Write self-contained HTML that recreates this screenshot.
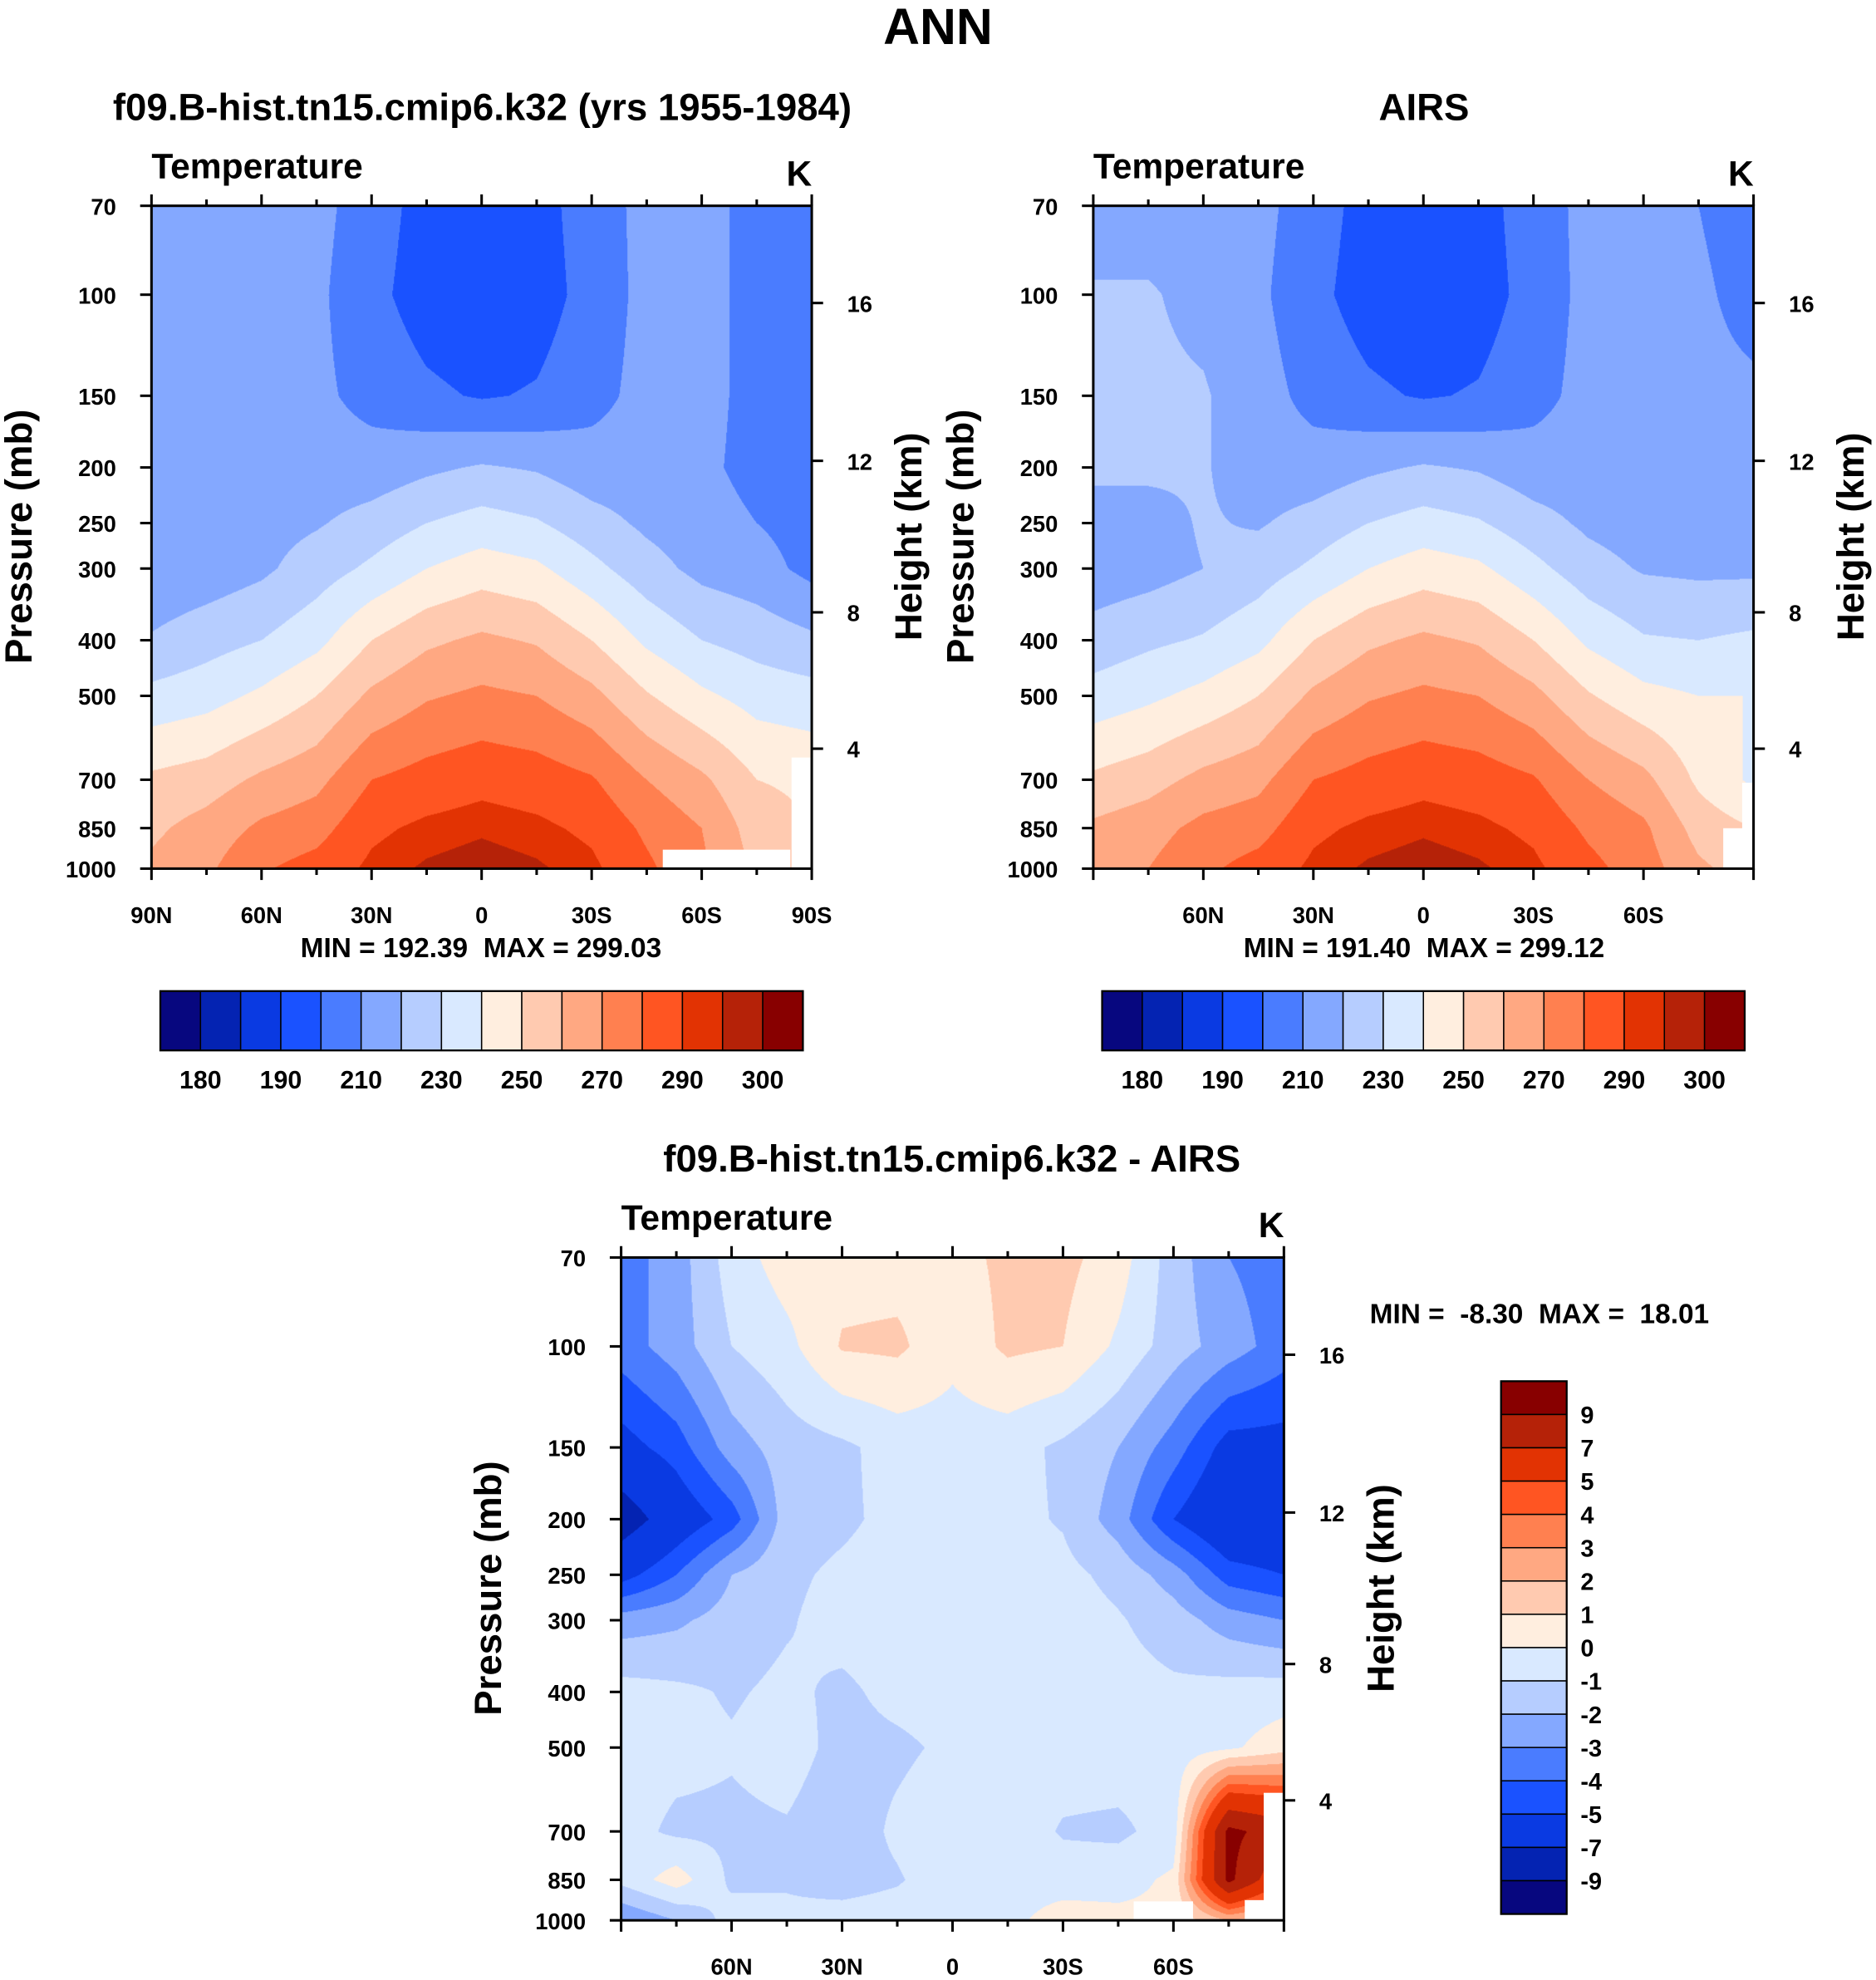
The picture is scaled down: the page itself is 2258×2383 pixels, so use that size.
<!DOCTYPE html>
<html><head><meta charset="utf-8"><style>
html,body{margin:0;padding:0;background:#fff;}
#outer{position:relative;width:2258px;height:2383px;overflow:hidden;}
#inner{position:absolute;left:0;top:0;width:1486px;height:1568px;transform:scale(1.51951);transform-origin:0 0;}
canvas{position:absolute;}
svg{position:absolute;left:0;top:0;}
text{font-family:"Liberation Sans",Arial,sans-serif;font-weight:bold;fill:#000;white-space:pre;}
</style></head><body>
<div id="outer"><div id="inner">
<canvas id="c1" style="left:120px;top:163px;width:523px;height:525px"></canvas>
<canvas id="c2" style="left:866px;top:163px;width:523px;height:525px"></canvas>
<canvas id="c3" style="left:492px;top:996px;width:525px;height:525px"></canvas>
<svg id="s" width="1486" height="1568" viewBox="0 0 1486 1568"></svg>
</div></div>
<script>
const lats=[90,75,60,45,30,15,0,-15,-30,-45,-60,-75,-90];
const plevs=[70,100,150,200,250,300,400,500,700,850,1000];
const absLevels=[180,185,190,200,210,220,230,240,250,260,270,280,290,295,300];
const absTickLabels=["180","190","210","230","250","270","290","300"];
const diffLevels=[-9,-7,-5,-4,-3,-2,-1,0,1,2,3,4,5,7,9];
const palette=["#07077f","#0423b2","#0a3ae2","#1a52ff","#4a7cff","#84a8ff","#b6cdff","#d9e9ff","#ffeedf","#ffcab0","#ffa882","#ff8050","#ff5522","#e23303","#b52208","#880000"];
const kmLabels=["16","12","8","4"];
const kmOffsets=[77,202,322,430];
const modelTemp=[
[215,215,215,213,205,196,193,196,205,213,214,206,203],
[215,215,215,212,203,195,192,195,204,213,213,207,203],
[214,214,214,212,207,202,199,201,207,213,213,207,204],
[213,213,214,214,214,218,221,219,214,214,212,207,205],
[212,213,216,219,224,230,234,231,224,218,214,210,206],
[212,214,218,225,232,240,245,242,233,224,217,214,207],
[221,226,230,237,250,258,262,259,250,238,230,226,222],
[233,236,242,250,262,269,272,270,263,251,242,236,234],
[252,255,262,267,280,284,287,285,281,270,262,250,248],
[258,264,272,276,288,292,294,292,288,278,270,255,250],
[262,268,279,284,292,296,298,296,292,282,272,258,250]];
const airsTemp=[
[215,215,215,213,205,196,193,196,205,213,214,210,204],
[221,221,217,212,203,195,192,195,204,213,213,212,206],
[222,222,221,214,207,202,199,201,207,213,213,213,212],
[222,222,221,214,214,218,221,219,214,214,213,213,213],
[216,216,221,219,224,230,234,231,224,218,215,215,215],
[214,216,220,225,232,240,245,242,233,224,219,218,218],
[224,228,231,237,250,258,262,259,250,238,231,230,232],
[234,238,243,250,262,269,272,270,263,251,243,240,240],
[252,256,263,267,280,284,287,285,281,270,263,248,238],
[262,266,273,276,288,292,294,292,288,278,272,256,250],
[266,270,278,284,292,296,298,296,292,283,275,262,255]];
const diffTemp=[
[-3.5,-2.5,-0.5,0.5,0.6,0.6,0.7,1.2,1.3,0.5,-1.5,-3,-3.5],
[-3.5,-2.5,-1.0,-0.3,1.1,1.2,0.3,1.2,1.0,-0.2,-1.5,-2.5,-3.5],
[-5.5,-4.5,-2.5,-1.5,-1.2,-0.6,-0.5,-0.6,-1.2,-2,-3.5,-5.5,-5.5],
[-8,-6,-4.5,-1.5,-1.2,-0.7,-0.6,-0.7,-1.1,-2.5,-5,-6.5,-6.5],
[-5.5,-4,-2,-1.2,-0.8,-0.5,-0.5,-0.5,-0.7,-1.3,-2.5,-4.5,-5],
[-2.5,-2.2,-1.5,-1.1,-0.6,-0.4,-0.4,-0.3,-0.5,-0.9,-1.5,-2.5,-3],
[-0.6,-0.8,-1.1,-0.8,-1.2,-0.7,-0.5,-0.5,-0.5,-0.6,-0.8,-0.6,-0.5],
[-0.5,-0.7,-0.9,-0.6,-1.3,-1.2,-0.8,-0.6,-0.5,-0.5,-0.6,-0.2,0.6],
[-0.6,-1.2,-1.2,-1.1,-1.6,-0.8,-0.3,-0.4,-1.1,-1.2,-0.6,9.5,8],
[-0.7,0.5,-1.2,-1.1,-1.4,-1.1,-0.4,-0.4,-0.5,-0.4,0.2,9.5,5],
[-3,-2,-0.6,-0.8,-0.6,-0.5,-0.4,-0.3,0.5,0.3,0.2,2,1]];
const diffTickLabels=["-9","-7","-5","-4","-3","-2","-1","0","1","2","3","4","5","7","9"];

const L70=Math.log10(70),L1000=Math.log10(1000);
function hex(c){return [parseInt(c.substr(1,2),16),parseInt(c.substr(3,2),16),parseInt(c.substr(5,2),16)];}
const rgb=palette.map(hex);
function band(v,lv){let k=0;while(k<lv.length&&v>=lv[k])k++;return k;}
function drawField(id,data,lv){
  const cv=document.getElementById(id);const W=Math.round(parseFloat(cv.style.width)*1.52),H=Math.round(parseFloat(cv.style.height)*1.52);
  cv.width=W;cv.height=H;const ctx=cv.getContext('2d');const img=ctx.createImageData(W,H);
  const lp=plevs.map(Math.log10);
  for(let j=0;j<H;j++){
    const L=L70+(L1000-L70)*(j+0.5)/H;let k=0;while(k<lp.length-2&&L>lp[k+1])k++;
    const fy=(L-lp[k])/(lp[k+1]-lp[k]);
    for(let i=0;i<W;i++){
      const lat=90-180*(i+0.5)/W;let fi=(90-lat)/15;let a=Math.min(Math.floor(fi),lats.length-2);const fx=fi-a;
      const v=(data[k][a]*(1-fx)+data[k][a+1]*fx)*(1-fy)+(data[k+1][a]*(1-fx)+data[k+1][a+1]*fx)*fy;
      const c=rgb[band(v,lv)];const o=(j*W+i)*4;img.data[o]=c[0];img.data[o+1]=c[1];img.data[o+2]=c[2];img.data[o+3]=255;
    }
  }
  ctx.putImageData(img,0,0);
}
drawField('c1',modelTemp,absLevels);
drawField('c2',airsTemp,absLevels);
drawField('c3',diffTemp,diffLevels);

const S=document.getElementById('s');const NS='http://www.w3.org/2000/svg';
function el(tag,attrs,txt){const e=document.createElementNS(NS,tag);for(const k in attrs)e.setAttribute(k,attrs[k]);if(txt!==undefined)e.textContent=txt;S.appendChild(e);return e;}
function txt(x,y,s,size,anchor,name,rot){const e=el('text',{x:x,y:y,'font-size':size,'text-anchor':anchor||'middle'},s);


if(rot)e.setAttribute('transform','rotate(-90 '+x+' '+y+')');return e;}
function yOf(p,y0){return y0+525*(Math.log10(p)-L70)/(L1000-L70);}

function panel(x0,y0,w,title,titleX,latLabels,id){
  const fr=el('rect',{x:x0,y:y0,width:w,height:525,fill:'none',stroke:'#000','stroke-width':2});
  
  
  plevs.forEach(p=>{const y=yOf(p,y0);el('line',{x1:x0-9,x2:x0,y1:y,y2:y,stroke:'#000','stroke-width':2});
    txt(x0-28,y+7,String(p),18,'end',id+'-pressure-tick-label');});
  kmOffsets.forEach((o,i)=>{const y=y0+o;el('line',{x1:x0+w,x2:x0+w+9,y1:y,y2:y,stroke:'#000','stroke-width':2});
    txt(x0+w+28,y+7,kmLabels[i],18,'start',id+'-height-tick-label');});
  for(let lat=90;lat>=-90;lat-=15){const x=x0+w*(90-lat)/180;const len=(lat%30===0)?9:5;
    el('line',{x1:x,x2:x,y1:y0,y2:y0-len,stroke:'#000','stroke-width':2});
    el('line',{x1:x,x2:x,y1:y0+525,y2:y0+525+len,stroke:'#000','stroke-width':2});}
  latLabels.forEach(l=>{const x=x0+w*(90-l[0])/180;txt(x,y0+568,l[1],18,'middle',id+'-latitude-tick-label');});
  txt(titleX,y0-68,title,30,'middle',id+'-title');
  txt(x0,y0-22,'Temperature',28,'start',id+'-variable-label');
  txt(x0+w-10,y0-16,'K',28,'middle',id+'-units-label');
  txt(x0-95,y0+262,'Pressure (mb)',30,'middle',id+'-y-axis-title',true);
  txt(x0+w+87,y0+262,'Height (km)',30,'middle',id+'-right-axis-title',true);
}
function white(x,y,w,h){const r=el('rect',{x:x,y:y,width:w,height:h,fill:'#fff'});

}
white(525,673,101,15);white(627,600,16,88);
white(1380,620,9,68);white(1365,656,24,32);
white(898,1506,47,15);white(1001,1420,16,101);white(986,1505,31,16);

const full=[[90,'90N'],[60,'60N'],[30,'30N'],[0,'0'],[-30,'30S'],[-60,'60S'],[-90,'90S']];
const part=[[60,'60N'],[30,'30N'],[0,'0'],[-30,'30S'],[-60,'60S']];
panel(120,163,523,'f09.B-hist.tn15.cmip6.k32 (yrs 1955-1984)',382,full,'model');
panel(866,163,523,'AIRS',1128,part,'airs');
panel(492,996,525,'f09.B-hist.tn15.cmip6.k32 - AIRS',754,part,'diff');
txt(743,35,'ANN',40,'middle','main-title');
txt(381,758,'MIN = 192.39  MAX = 299.03',22,'middle','model-min-max');
txt(1128,758,'MIN = 191.40  MAX = 299.12',22,'middle','airs-min-max');
txt(1085,1048,'MIN =  -8.30  MAX =  18.01',22,'start','diff-min-max');

function hbar(x0,id){const w=509/16;
  palette.forEach((c,i)=>{const r=el('rect',{x:x0+i*w,y:785,width:w,height:47,fill:c,stroke:'#000','stroke-width':1});
  
  });
  el('rect',{x:x0,y:785,width:509,height:47,fill:'none',stroke:'#000','stroke-width':1.5});
  absTickLabels.forEach((s,i)=>{const b=i<7?(1+2*i):15;txt(x0+b*w,862,s,20,'middle',id+'-colorbar-label');});
}
hbar(127,'model');hbar(873,'airs');
(function(){const h=422/16;
  palette.slice().reverse().forEach((c,i)=>{const r=el('rect',{x:1189,y:1094+i*h,width:52,height:h,fill:c,stroke:'#000','stroke-width':1});
  
  });
  el('rect',{x:1189,y:1094,width:52,height:422,fill:'none',stroke:'#000','stroke-width':1.5});
  diffTickLabels.slice().reverse().forEach((s,i)=>{txt(1252,1094+(i+1)*h+7,s,19,'start','diff-colorbar-label');});
})();
</script>
</body></html>
